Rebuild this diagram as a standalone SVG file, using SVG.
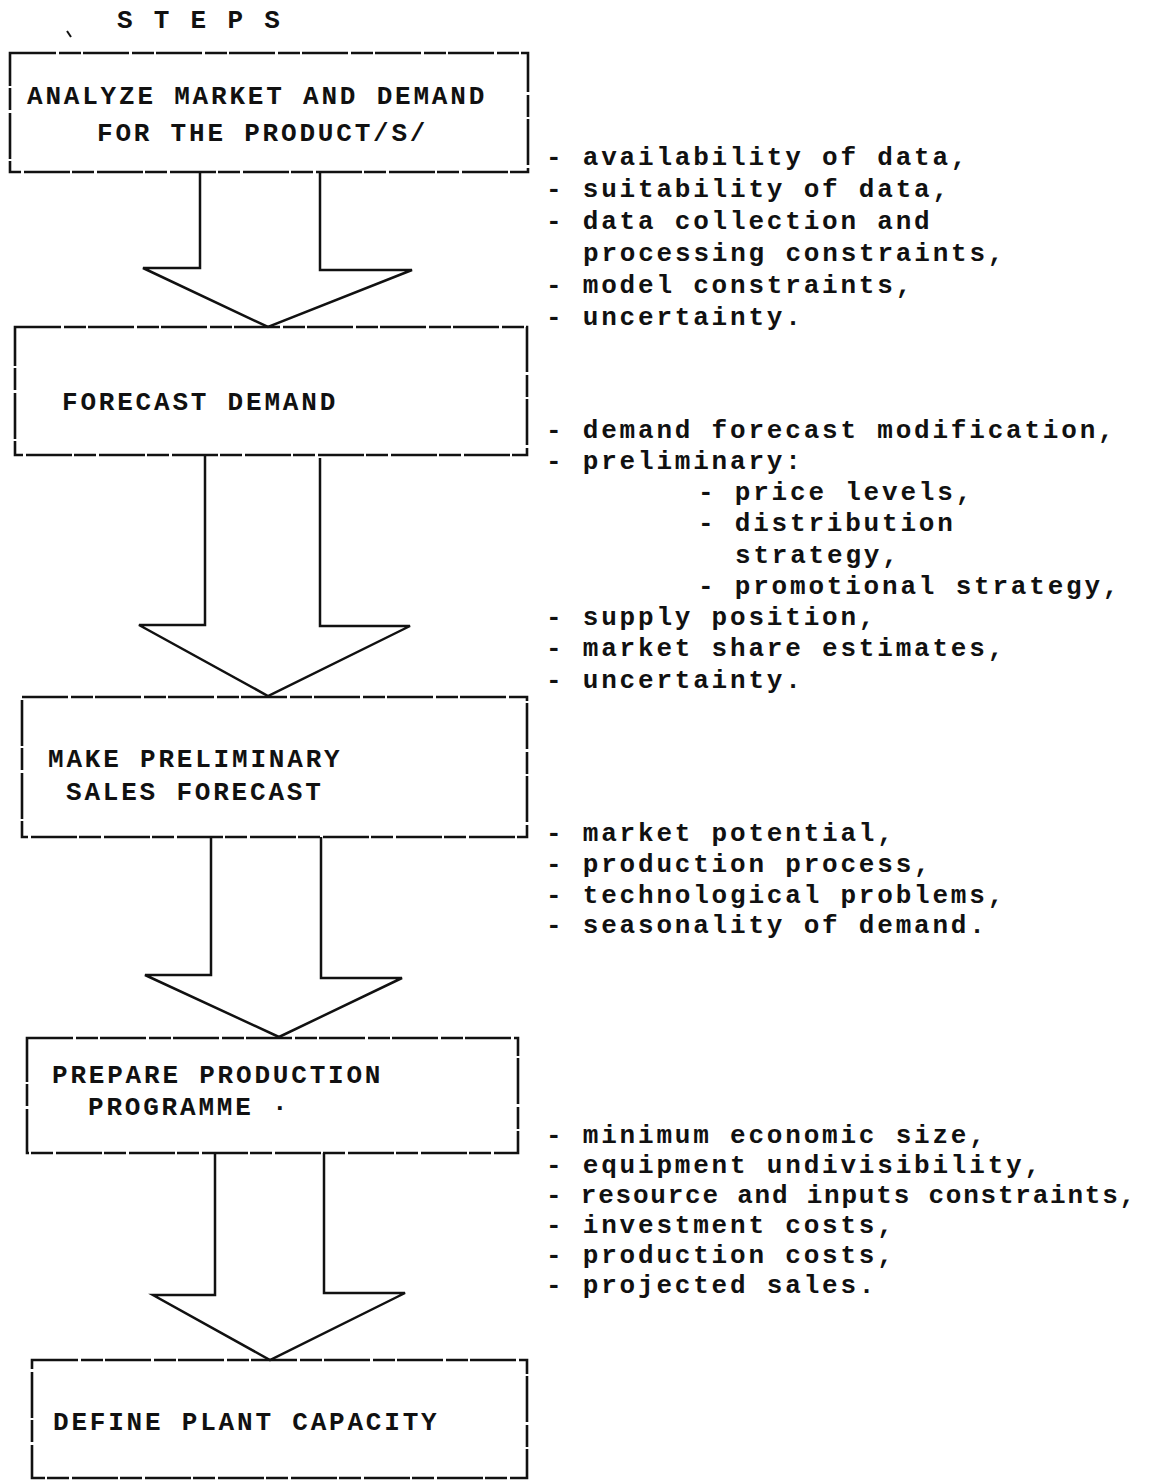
<svg xmlns="http://www.w3.org/2000/svg" width="1163" height="1482" viewBox="0 0 1163 1482">
<style>
.t { font-family: "Liberation Mono", "Courier New", monospace; font-size: 26px; font-weight: bold; letter-spacing: 2.8px; fill: #111; }
.box { fill: none; stroke: #111; stroke-width: 2.6; stroke-dasharray: 46 3 22 2; }
.arr { fill: none; stroke: #111; stroke-width: 2.5; stroke-linejoin: miter; }
</style>
<rect width="1163" height="1482" fill="#fff"/>
<g id="title">
  <line x1="67" y1="31" x2="71" y2="37" stroke="#111" stroke-width="2"/>
  <text class="t" x="117" y="28">S T E P S</text>
</g>
<g id="connectors">
  <path class="arr" d="M200,172 V268 H143 L268,327 L412,270 H320 V172"/>
  <path class="arr" d="M205,455 V625 H139 L268,696 L410,626 H320 V458"/>
  <path class="arr" d="M211,837 V975 H145 L279,1037 L402,978 H321 V837"/>
  <path class="arr" d="M215,1153 V1295 H153 L270,1360 L405,1293 H324 V1153"/>
</g>
<g id="step1">
  <rect class="box" x="10" y="53" width="518" height="119"/>
  <text class="t" x="27" y="104">ANALYZE MARKET AND DEMAND</text>
  <text class="t" x="97" y="141">FOR THE PRODUCT/S/</text>
</g>
<g id="step2">
  <rect class="box" x="15" y="327" width="512" height="128"/>
  <text class="t" x="62" y="410">FORECAST DEMAND</text>
</g>
<g id="step3">
  <rect class="box" x="22" y="697" width="505" height="140"/>
  <text class="t" x="48" y="767">MAKE PRELIMINARY</text>
  <text class="t" x="66" y="800">SALES FORECAST</text>
</g>
<g id="step4">
  <rect class="box" x="27" y="1038" width="491" height="115"/>
  <text class="t" x="52" y="1083">PREPARE PRODUCTION</text>
  <text class="t" x="88" y="1115">PROGRAMME ·</text>
</g>
<g id="step5">
  <rect class="box" x="32" y="1360" width="495" height="118"/>
  <text class="t" x="53" y="1430">DEFINE PLANT CAPACITY</text>
</g>
<g id="notes1">
  <text class="t" x="546" y="165">- availability of data,</text>
  <text class="t" x="546" y="197">- suitability of data,</text>
  <text class="t" x="546" y="229">- data collection and</text>
  <text class="t" x="583" y="261">processing constraints,</text>
  <text class="t" x="546" y="293">- model constraints,</text>
  <text class="t" x="546" y="325">- uncertainty.</text>
</g>
<g id="notes2">
  <text class="t" x="546" y="438">- demand forecast modification,</text>
  <text class="t" x="546" y="469">- preliminary:</text>
  <text class="t" x="698" y="500">- price levels,</text>
  <text class="t" x="698" y="531">- distribution</text>
  <text class="t" x="735" y="563">strategy,</text>
  <text class="t" x="698" y="594">- promotional strategy,</text>
  <text class="t" x="546" y="625">- supply position,</text>
  <text class="t" x="546" y="656">- market share estimates,</text>
  <text class="t" x="546" y="688">- uncertainty.</text>
</g>
<g id="notes3">
  <text class="t" x="546" y="841">- market potential,</text>
  <text class="t" x="546" y="872">- production process,</text>
  <text class="t" x="546" y="903">- technological problems,</text>
  <text class="t" x="546" y="933">- seasonality of demand.</text>
</g>
<g id="notes4">
  <text class="t" x="546" y="1143">- minimum economic size,</text>
  <text class="t" x="546" y="1173">- equipment undivisibility,</text>
  <text class="t" x="546" y="1203" textLength="592" lengthAdjust="spacing">- resource and inputs constraints,</text>
  <text class="t" x="546" y="1233">- investment costs,</text>
  <text class="t" x="546" y="1263">- production costs,</text>
  <text class="t" x="546" y="1293">- projected sales.</text>
</g>
</svg>
